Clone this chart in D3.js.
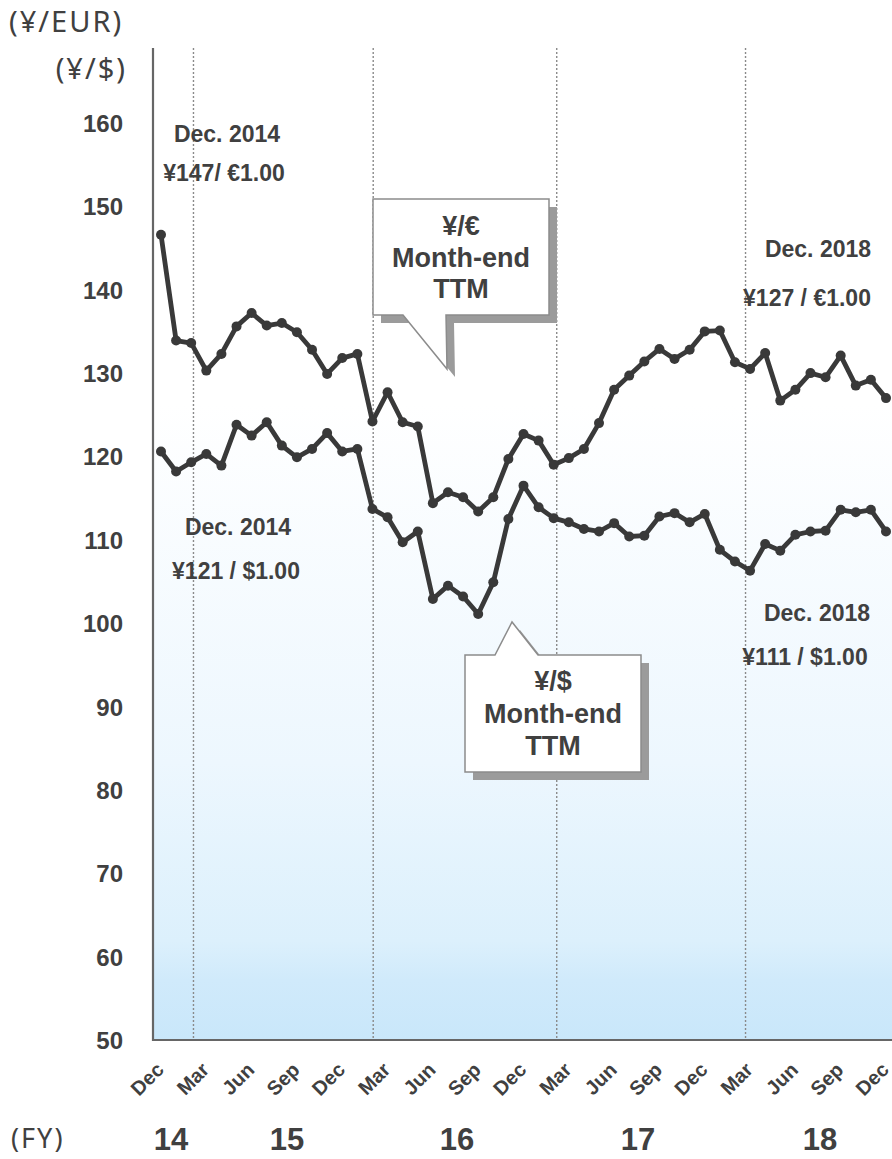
<!DOCTYPE html>
<html>
<head>
<meta charset="utf-8">
<script src="https://cdn.jsdelivr.net/npm/d3@7"></script>
<style>
    body { margin: 0; background: #fff; }
    svg text { fill: #404040; }
    .narrow { font-family: "Liberation Sans Narrow", "Arial Narrow", "Liberation Sans", sans-serif; font-weight: bold; }
    .unit { font-family: "Noto Sans", sans-serif; letter-spacing: 2px; }
</style>
</head>
<body>
<svg id="chart" width="892" height="1159"></svg>
<script>
// month-end rates, Dec 2014 .. Dec 2018 (49 months)
var eurRates = [146.6, 133.9, 133.6, 130.3, 132.3, 135.6, 137.2, 135.7, 136.0, 134.9, 132.8, 129.9,
    131.8, 132.3, 124.2, 127.7, 124.1, 123.6, 114.4, 115.7, 115.1, 113.4, 115.1, 119.7,
    122.7, 121.9, 119.0, 119.8, 120.9, 124.0, 128.0, 129.7, 131.4, 132.9, 131.7, 132.8,
    135.0, 135.1, 131.3, 130.5, 132.4, 126.7, 128.0, 130.0, 129.5, 132.1, 128.5, 129.2, 127.0];
var usdRates = [120.6, 118.2, 119.3, 120.3, 118.9, 123.8, 122.5, 124.1, 121.3, 119.9, 120.9, 122.8,
    120.6, 120.9, 113.7, 112.7, 109.7, 111.0, 102.9, 104.5, 103.2, 101.1, 104.9, 112.5,
    116.5, 113.9, 112.6, 112.1, 111.3, 111.0, 112.0, 110.4, 110.5, 112.8, 113.2, 112.1,
    113.1, 108.8, 107.4, 106.3, 109.5, 108.7, 110.6, 111.0, 111.1, 113.6, 113.3, 113.6, 111.0];
var monthTicks = ['Dec', 'Mar', 'Jun', 'Sep'];
var yTicks = [50, 60, 70, 80, 90, 100, 110, 120, 130, 140, 150, 160];
var fyLabels = ['14', '15', '16', '17', '18'];
var fyDividers = [2.15, 14.05, 26.2, 38.7];   // fiscal year breaks, in month index

var svg = d3.select('#chart');
var plotL = 153, plotR = 892, plotT = 48, plotB = 1040;

var x = d3.scaleLinear().domain([0, eurRates.length - 1]).range([161, 886]);
var y = d3.scaleLinear().domain([50, 160]).range([plotB, 123]);

// plot background
var grad = svg.append('defs').append('linearGradient')
    .attr('id', 'bg').attr('x1', 0).attr('y1', 0).attr('x2', 0).attr('y2', 1);
[[0, '#ffffff'], [0.36, '#ffffff'], [0.72, '#edf7fe'], [0.9, '#dcf0fc'], [0.94, '#d0eafb'], [1, '#c9e7fa']]
    .forEach(function (s) {
        grad.append('stop').attr('offset', s[0]).attr('stop-color', s[1]);
    });
svg.append('rect')
    .attr('x', plotL).attr('y', plotT)
    .attr('width', plotR - plotL).attr('height', plotB - plotT)
    .attr('fill', 'url(#bg)');

// dotted fiscal year lines
svg.selectAll('.fy-line').data(fyDividers).enter().append('line')
    .attr('class', 'fy-line')
    .attr('x1', function (d) { return x(d); }).attr('x2', function (d) { return x(d); })
    .attr('y1', plotT).attr('y2', plotB)
    .attr('stroke', '#8a8a8a').attr('stroke-width', 1.4).attr('stroke-dasharray', '2,2');

// axis frame
svg.append('path')
    .attr('d', 'M' + plotL + ',' + plotT + 'V' + plotB + 'H' + plotR)
    .attr('fill', 'none').attr('stroke', '#666').attr('stroke-width', 2.2);

// y tick labels
svg.selectAll('.ytick').data(yTicks).enter().append('text')
    .attr('class', 'ytick')
    .attr('x', 123).attr('y', function (d) { return y(d) + 9; })
    .attr('text-anchor', 'end')
    .style('font-family', '"Liberation Sans", Arial, sans-serif')
    .style('font-weight', 'bold').style('font-size', '24px')
    .text(function (d) { return d; });

// unit labels
svg.append('text').attr('class', 'unit').attr('x', 9).attr('y', 32)
    .style('font-size', '29px').text('(¥/EUR)');
svg.append('text').attr('class', 'unit').attr('x', 127).attr('y', 79).attr('text-anchor', 'end')
    .style('font-size', '29px').text('(¥/$)');
svg.append('text').attr('class', 'unit').attr('x', 11).attr('y', 1148)
    .style('font-size', '27px').text('(FY)');

// month tick labels
var tickIdx = d3.range(0, eurRates.length, 3);
svg.selectAll('.mtick').data(tickIdx).enter().append('text')
    .attr('class', 'mtick')
    .attr('text-anchor', 'end')
    .attr('transform', function (d) { return 'translate(' + (x(d) + 4) + ',1071) rotate(-45)'; })
    .style('font-family', '"Liberation Sans", Arial, sans-serif')
    .style('font-weight', 'bold').style('font-size', '20px')
    .text(function (d, i) { return monthTicks[i % 4]; });

// fiscal year numbers
var fyX = [171, 287, 457, 638, 820];
svg.selectAll('.fy').data(fyLabels).enter().append('text')
    .attr('class', 'fy narrow')
    .attr('x', function (d, i) { return fyX[i]; }).attr('y', 1150)
    .attr('text-anchor', 'middle')
    .style('font-size', '31px')
    .text(function (d) { return d; });

// series
var line = d3.line()
    .x(function (d, i) { return x(i); })
    .y(function (d) { return y(d); });

[eurRates, usdRates].forEach(function (series) {
    svg.append('path').datum(series)
        .attr('d', line)
        .attr('fill', 'none').attr('stroke', '#393939')
        .attr('stroke-width', 4.8).attr('stroke-linejoin', 'round');
    svg.append('g').selectAll('circle').data(series).enter().append('circle')
        .attr('cx', function (d, i) { return x(i); })
        .attr('cy', function (d) { return y(d); })
        .attr('r', 5).attr('fill', '#393939');
});

// callout boxes
function callout(shape, lines, cx, firstY, gap) {
    var g = svg.append('g');
    g.append('path').attr('d', shape).attr('transform', 'translate(8,8)')
        .attr('fill', '#9b9b9b');
    g.append('path').attr('d', shape)
        .attr('fill', '#fff').attr('stroke', '#8c8c8c').attr('stroke-width', 1.5);
    lines.forEach(function (t, i) {
        g.append('text').attr('class', 'narrow')
            .attr('x', cx).attr('y', firstY + i * gap)
            .attr('text-anchor', 'middle').style('font-size', '27px')
            .text(t);
    });
}
callout('M373,199H549V315H446L447,369L403,315H373Z', ['¥/€', 'Month-end', 'TTM'], 461, 235, 31.5);
callout('M465,655H495L512,622L538,655H641V772H465Z', ['¥/$', 'Month-end', 'TTM'], 553, 690, 32.5);

// end-point notes
var notes = [
    { x: 227, y: 142, t: 'Dec. 2014' }, { x: 224, y: 181, t: '¥147/ €1.00' },
    { x: 818, y: 257, t: 'Dec. 2018' }, { x: 807, y: 306, t: '¥127 / €1.00' },
    { x: 238, y: 535, t: 'Dec. 2014' }, { x: 236, y: 579, t: '¥121 / $1.00' },
    { x: 817, y: 621, t: 'Dec. 2018' }, { x: 805, y: 665, t: '¥111 / $1.00' }
];
svg.selectAll('.note').data(notes).enter().append('text')
    .attr('class', 'note narrow')
    .attr('x', function (d) { return d.x; }).attr('y', function (d) { return d.y; })
    .attr('text-anchor', 'middle').style('font-size', '23px')
    .text(function (d) { return d.t; });
</script>
</body>
</html>
